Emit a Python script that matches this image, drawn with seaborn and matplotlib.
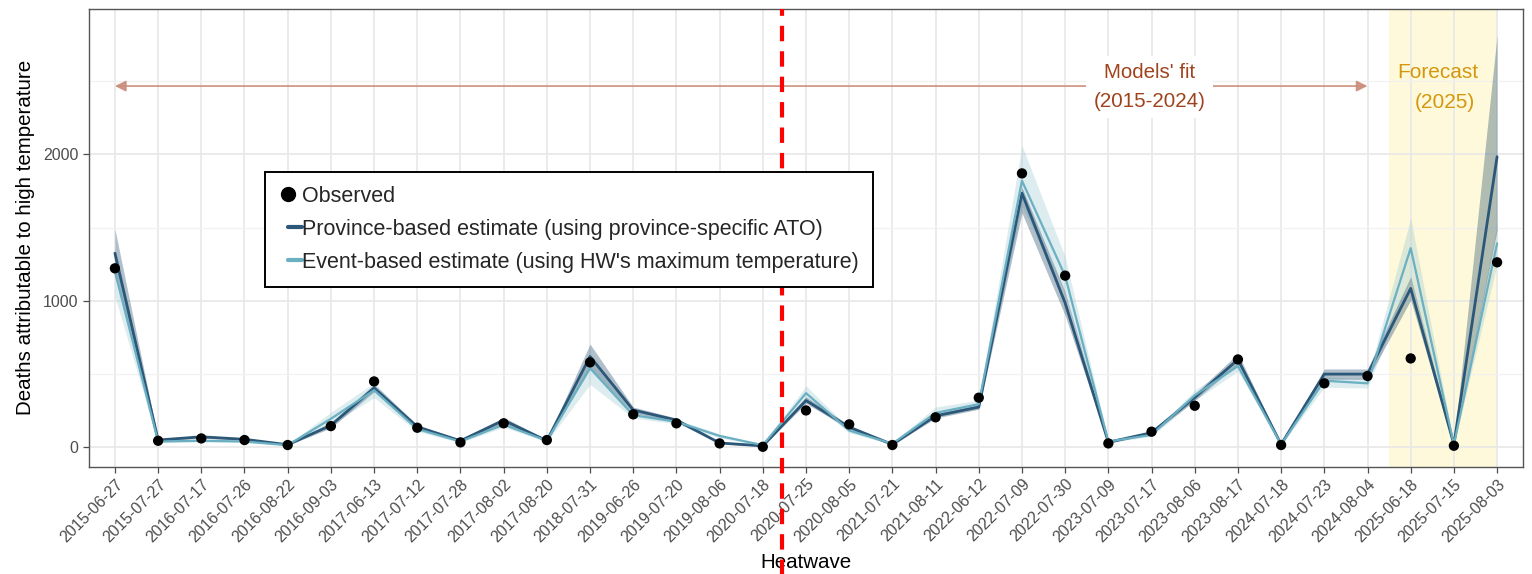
import numpy as np
import pandas as pd
import matplotlib
matplotlib.use("Agg")
import matplotlib.pyplot as plt
import seaborn as sns
from matplotlib.lines import Line2D
from matplotlib.legend_handler import HandlerLine2D

heatwaves = ["2015-06-27", "2015-07-27", "2016-07-17", "2016-07-26", "2016-08-22",
             "2016-09-03", "2017-06-13", "2017-07-12", "2017-07-28", "2017-08-02",
             "2017-08-20", "2018-07-31", "2019-06-26", "2019-07-20", "2019-08-06",
             "2020-07-18", "2020-07-25", "2020-08-05", "2021-07-21", "2021-08-11",
             "2022-06-12", "2022-07-09", "2022-07-30", "2023-07-09", "2023-07-17",
             "2023-08-06", "2023-08-17", "2024-07-18", "2024-07-23", "2024-08-04",
             "2025-06-18", "2025-07-15", "2025-08-03"]

observed = [1222, 45, 61, 50, 16, 145, 450, 134, 34, 164, 50, 580, 225, 164, 27, 4,
            252, 157, 16, 205, 339, 1870, 1172, 27, 107, 284, 600, 16, 437, 487,
            607, 11, 1263]

prov_est = [1325, 50, 72, 55, 18, 150, 405, 140, 45, 185, 45, 620, 255, 186, 30, 10,
            320, 138, 20, 215, 275, 1735, 985, 35, 100, 340, 600, 20, 500, 500,
            1085, 20, 1984]
prov_lo = [1180, 42, 62, 47, 14, 132, 380, 125, 38, 165, 38, 540, 235, 172, 24, 7,
           300, 125, 15, 200, 260, 1600, 900, 28, 90, 320, 570, 15, 465, 465,
           1005, 15, 1483]
prov_hi = [1490, 58, 82, 63, 22, 168, 430, 155, 52, 205, 52, 705, 275, 200, 36, 13,
           345, 152, 25, 232, 292, 1775, 1060, 42, 110, 365, 640, 25, 535, 535,
           1165, 25, 2814]

event_est = [1200, 40, 45, 40, 15, 195, 390, 125, 40, 155, 45, 540, 220, 175, 78, 15,
             370, 115, 25, 235, 295, 1820, 1170, 40, 85, 355, 555, 20, 455, 437,
             1360, 20, 1392]
event_lo = [1030, 33, 37, 33, 11, 155, 340, 108, 33, 138, 38, 430, 200, 160, 65, 10,
            335, 100, 18, 205, 268, 1650, 1050, 32, 75, 320, 520, 15, 410, 405,
            1150, 15, 1250]
event_hi = [1360, 48, 55, 48, 20, 240, 440, 142, 48, 175, 52, 600, 240, 190, 92, 20,
            420, 130, 32, 275, 322, 2060, 1300, 48, 95, 390, 590, 25, 480, 470,
            1565, 25, 1530]

PROV_COL = "#2B5778"
EVENT_COL = "#6AAFC2"

sns.set_theme(style="white")
plt.rcParams["font.family"] = ["Liberation Sans", "DejaVu Sans"]

pos = np.arange(len(heatwaves))
df = pd.DataFrame({
    "pos": np.concatenate([pos, pos]),
    "value": prov_est + event_est,
    "model": ["Province"] * len(pos) + ["Event"] * len(pos),
})
obs_df = pd.DataFrame({"pos": pos, "value": observed})

fig = plt.figure(figsize=(15.32, 5.74), dpi=100)
ax = fig.add_axes([89 / 1532, 1 - 466.7 / 574, (1523 - 89) / 1532, (466.7 - 9) / 574])

# forecast band
ax.axvspan(29.5, 32, color="#FEF9DA", zorder=0.5, lw=0)

# grid
ax.set_yticks([0, 1000, 2000])
ax.set_yticks([500, 1500, 2500], minor=True)
ax.set_xticks(pos)
ax.grid(True, which="major", color="#E8E8E8", lw=1.2, zorder=0.6)
ax.grid(True, which="minor", axis="y", color="#F1F1F1", lw=0.9, zorder=0.6)
ax.set_axisbelow(True)

# ribbons
ax.fill_between(pos, event_lo, event_hi, color="#9CCBD3", alpha=0.35, lw=0, zorder=1)
ax.fill_between(pos, prov_lo, prov_hi, color="#3B5F78", alpha=0.4, lw=0, zorder=1.1)

sns.lineplot(data=df, x="pos", y="value", hue="model",
             palette={"Province": PROV_COL, "Event": EVENT_COL},
             hue_order=["Province", "Event"], ax=ax, legend=False, zorder=2)
for ln, w in zip(ax.get_lines(), [2.0, 1.6]):
    ln.set_linewidth(w)

sns.scatterplot(data=obs_df, x="pos", y="value", color="black", s=55,
                edgecolor="none", ax=ax, zorder=3, legend=False)

ax.set_xlim(-0.6, 32.6)
ax.set_ylim(-132, 2992)
ax.set_xticklabels(heatwaves, rotation=45, ha="right", rotation_mode="anchor")
ax.tick_params(axis="both", which="major", colors="#4D4D4D", labelsize=11.5,
               length=4, width=0.9, direction="out")
ax.tick_params(axis="x", pad=3)
ax.tick_params(axis="both", which="minor", length=0)
ax.tick_params(bottom=True, left=True)
for sp in ax.spines.values():
    sp.set_color("#555555")
    sp.set_linewidth(1.0)

ax.set_xlabel("Heatwave", fontsize=14.8, color="black", labelpad=6)
ax.set_ylabel("Deaths attributable to high temperature", fontsize=14.8,
              color="black", labelpad=6)

# arrow and annotations
ax.annotate("", xy=(0, 2466), xytext=(29, 2466),
            arrowprops=dict(arrowstyle="<|-|>", color="#CC8E7C", lw=1.3,
                            mutation_scale=16, shrinkA=0, shrinkB=0, alpha=0.9),
            zorder=2.5)
ax.text(23.95, 2459, "Models' fit\n(2015-2024)", ha="center", va="center",
        fontsize=14.8, color="#A0431C", linespacing=1.65, zorder=2.6,
        bbox=dict(boxstyle="square,pad=0.35", fc="white", ec="none"))
ax.text(30.63, 2561, "Forecast", ha="center", va="center", fontsize=15,
        color="#D4980F", zorder=2.6)
ax.text(30.8, 2357, "(2025)", ha="center", va="center", fontsize=15,
        color="#D4980F", zorder=2.6)

# legend
h_obs = Line2D([], [], marker="o", color="black", lw=0, markersize=10)
h_prov = Line2D([], [], color=PROV_COL, lw=3)
h_event = Line2D([], [], color=EVENT_COL, lw=3)
labels = ["Observed",
          "Province-based estimate (using province-specific ATO)",
          "Event-based estimate (using HW's maximum temperature)"]
leg = fig.legend([h_obs, h_prov, h_event], labels, loc="upper left",
                 bbox_to_anchor=(265 / 1532, 1 - 172 / 574), borderaxespad=0,
                 fontsize=15.5, frameon=True, fancybox=False, handlelength=1.07,
                 handletextpad=0.02, labelspacing=0.55, borderpad=0.65,
                 framealpha=1,
                 handler_map={h_obs: HandlerLine2D(xpad=-0.25),
                              h_prov: HandlerLine2D(xpad=0.42),
                              h_event: HandlerLine2D(xpad=0.42)})
leg.get_frame().set_edgecolor("black")
leg.get_frame().set_linewidth(1.4)
leg.set_zorder(5)

# heatwave divider line
ax.axvline(15.45, ymin=-0.3, ymax=1, color="#FF0000", lw=3, ls=(0, (3.7, 2.4)),
           clip_on=False, zorder=10)

fig.savefig("out.png", dpi=100)
